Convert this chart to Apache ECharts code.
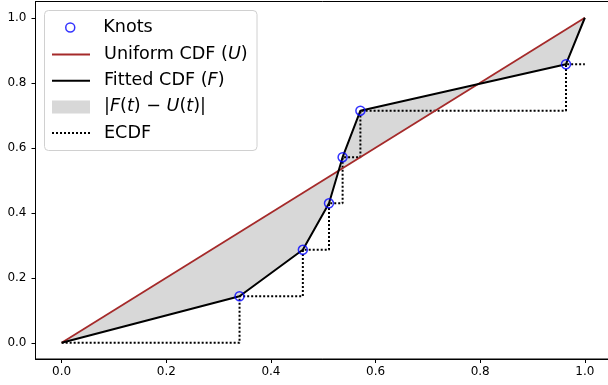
<!DOCTYPE html>
<html lang="en">
<head>
    <meta charset="UTF-8">
    <title>Fitted CDF vs Uniform CDF</title>
    <script src='https://cdn.jsdelivr.net/npm/echarts@6/dist/echarts.min.js'></script>
</head>
<body style="margin: 0">
<div id="chart" style="width: 608px;height: 385px"></div>

<script>
    // data
    let knotX = [0.340, 0.461, 0.511, 0.537, 0.571, 0.964];
    let knotY = [0.143, 0.286, 0.429, 0.571, 0.714, 0.857];
    let fitX = [0, 0.340, 0.461, 0.511, 0.537, 0.571, 0.964, 1.0];
    let fitY = [0, 0.143, 0.286, 0.429, 0.571, 0.714, 0.857, 1.0];
    let uniX = [0, 1.0];
    let uniY = [0, 1.0];
    let ecdfX = [0, 0.340, 0.461, 0.511, 0.537, 0.571, 0.964, 1.0];
    let ecdfY = [0, 0.143, 0.286, 0.429, 0.571, 0.714, 0.857, 0.857];
    let tickValues = [0, 0.2, 0.4, 0.6, 0.8, 1.0];

    let pairs = (xs, ys) => xs.map((x, i) => [x, ys[i]]);

    let font = 'DejaVu Sans';
    let legendNames = {
        'Knots': 'Knots',
        'Uniform CDF (U)': 'Uniform CDF ({i|U})',
        'Fitted CDF (F)': 'Fitted CDF ({i|F})',
        '|F(t) − U(t)|': '|{i|F}({i|t}) − {i|U}({i|t})|',
        'ECDF': 'ECDF'
    };
    let legendText = {
        fontFamily: font,
        fontSize: 17.6,
        lineHeight: 20,
        color: '#000',
        padding: [0, 0, 0, 9],
        rich: {
            i: { fontFamily: font, fontStyle: 'italic', fontSize: 17.6, lineHeight: 20, color: '#000' }
        }
    };
    // hide the symbol that line series draw in their legend icon
    let noSymbol = { opacity: 0 };

    let axisCommon = {
        type: 'value',
        min: -0.05,
        max: 1.05,
        splitLine: { show: false },
        axisLine: { show: true, onZero: false, lineStyle: { color: '#000', width: 1 } },
        axisTick: { show: true, inside: false, length: 4, customValues: tickValues,
                    lineStyle: { color: '#000', width: 1 } },
        axisLabel: {
            customValues: tickValues,
            fontFamily: font,
            fontSize: 12,
            color: '#000',
            formatter: v => v.toFixed(1)
        }
    };

    let chart = echarts.init(document.getElementById('chart'));
    let option = {
        animation: false,
        backgroundColor: '#fff',
        grid: {
            left: 35.5, right: -3, top: 1.5, bottom: 26,
            containLabel: false,
            outerBoundsMode: 'none',
            show: true,
            borderColor: '#000',
            borderWidth: 1
        },
        xAxis: Object.assign({}, axisCommon, {
            axisLabel: Object.assign({}, axisCommon.axisLabel, { margin: 7 })
        }),
        yAxis: Object.assign({}, axisCommon, {
            axisLabel: Object.assign({}, axisCommon.axisLabel, { margin: 9 })
        }),
        graphic: [{
            type: 'rect',
            z: 1,
            shape: { x: 44.5, y: 10.5, width: 212.5, height: 140, r: 4 },
            style: { fill: 'rgba(255,255,255,0.8)', stroke: '#d0d0d0', lineWidth: 1 }
        }],
        legend: [
            {
                orient: 'vertical',
                left: 65, top: 17.5,
                padding: 0,
                itemWidth: 38, itemHeight: 9,
                textStyle: legendText,
                formatter: name => legendNames[name],
                data: [{
                    name: 'Knots', icon: 'circle',
                    itemStyle: { color: 'transparent', borderColor: '#0000ff', borderWidth: 1.5 }
                }]
            },
            {
                orient: 'vertical',
                left: 51, top: 44.5,
                padding: 0,
                itemWidth: 38, itemHeight: 13,
                itemGap: 6.2,
                textStyle: legendText,
                formatter: name => legendNames[name],
                data: [
                    { name: 'Uniform CDF (U)', itemStyle: noSymbol },
                    { name: 'Fitted CDF (F)', itemStyle: noSymbol },
                    { name: '|F(t) − U(t)|', icon: 'rect', itemStyle: { color: '#d8d8d8' } },
                    { name: 'ECDF', itemStyle: noSymbol }
                ]
            }
        ],
        series: [
            {
                name: '|F(t) − U(t)|',
                type: 'custom',
                data: pairs(fitX, fitY),
                encode: { x: 0, y: 1 },
                itemStyle: { color: '#d8d8d8' },
                z: 1,
                renderItem: function (params, api) {
                    if (params.dataIndex !== 0) return;
                    let pts = fitX.map((x, i) => api.coord([x, fitY[i]]));
                    for (let i = uniX.length - 1; i >= 0; i--) {
                        pts.push(api.coord([uniX[i], uniY[i]]));
                    }
                    return {
                        type: 'polygon',
                        shape: { points: pts },
                        style: { fill: '#d8d8d8' }
                    };
                }
            },
            {
                name: 'ECDF',
                type: 'line',
                step: 'end',
                data: pairs(ecdfX, ecdfY),
                symbol: 'none',
                z: 2,
                lineStyle: { color: '#000', width: 2, type: [2, 2] },
                itemStyle: { color: '#000' }
            },
            {
                name: 'Uniform CDF (U)',
                type: 'line',
                data: pairs(uniX, uniY),
                symbol: 'none',
                z: 3,
                lineStyle: { color: '#a52a2a', width: 1.8 },
                itemStyle: { color: '#a52a2a' }
            },
            {
                name: 'Fitted CDF (F)',
                type: 'line',
                data: pairs(fitX, fitY),
                symbol: 'none',
                z: 4,
                lineStyle: { color: '#000', width: 2 },
                itemStyle: { color: '#000' }
            },
            {
                name: 'Knots',
                type: 'scatter',
                data: pairs(knotX, knotY),
                symbol: 'circle',
                symbolSize: 9,
                z: 5,
                itemStyle: { color: 'transparent', borderColor: '#0000ff', borderWidth: 1.5 }
            }
        ]
    };
    chart.setOption(option);
</script>
</body>
</html>
